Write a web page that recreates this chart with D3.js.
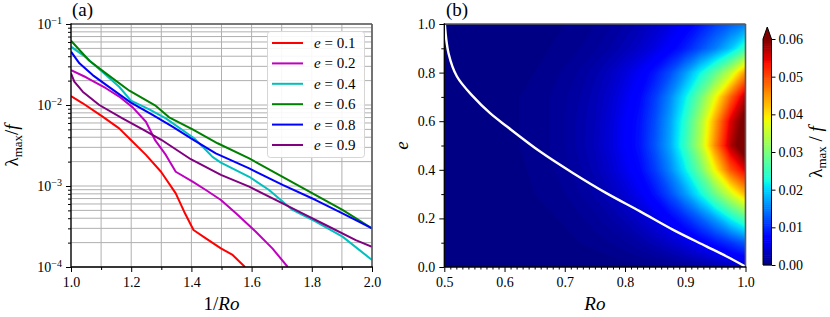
<!DOCTYPE html>
<html>
<head>
<meta charset="utf-8">
<script src="https://cdn.jsdelivr.net/npm/d3@7"></script>
<style>
body { margin: 0; background: #fff; }
svg text { font-family: "Liberation Serif", serif; fill: #000; white-space: pre; }
</style>
</head>
<body>
<svg id="fig" width="830" height="317"></svg>
<script>

// ---- panel (a): lambda_max / f against 1/Ro, one curve per e ----
const seriesE = [0.1, 0.2, 0.4, 0.6, 0.8, 0.9]
const seriesColors = ["#ff0000", "#bf00bf", "#00bfbf", "#008000", "#0000ff", "#800080"]

const x01 = [1.0, 1.039, 1.105, 1.160, 1.199, 1.249, 1.299, 1.348, 1.376, 1.407, 1.448, 1.498, 1.537, 1.578]
const y01 = [0.0129, 0.0105, 0.00718, 0.00515, 0.00370, 0.00242, 0.00150, 0.000811, 0.000482, 0.000286, 0.000226, 0.000170, 0.000141, 0.000100]

const x02 = [1.0, 1.05, 1.116, 1.160, 1.205, 1.249, 1.280, 1.315, 1.348, 1.404, 1.448, 1.498, 1.548, 1.614, 1.669, 1.720]
const y02 = [0.0270, 0.0220, 0.0161, 0.0127, 0.00935, 0.00622, 0.00365, 0.00242, 0.00150, 0.00113, 0.000893, 0.000671, 0.000460, 0.000273, 0.000170, 0.000100]

const x04 = [1.0, 1.05, 1.116, 1.160, 1.199, 1.260, 1.315, 1.409, 1.448, 1.470, 1.498, 1.592, 1.658, 1.736, 1.813, 1.902, 2.0]
const y04 = [0.0525, 0.0387, 0.0234, 0.0168, 0.0113, 0.00885, 0.00685, 0.00388, 0.00278, 0.00229, 0.00194, 0.00130, 0.000893, 0.000506, 0.000363, 0.000237, 0.000122]

const x06 = [1.0, 1.061, 1.116, 1.194, 1.282, 1.326, 1.404, 1.487, 1.592, 1.703, 1.813, 1.902, 2.0]
const y06 = [0.0622, 0.0352, 0.0246, 0.0150, 0.00973, 0.00705, 0.00501, 0.00337, 0.00219, 0.00130, 0.000774, 0.000506, 0.000300]

const x08 = [1.0, 1.028, 1.072, 1.127, 1.199, 1.271, 1.337, 1.404, 1.481, 1.592, 1.703, 1.813, 1.902, 2.0]
const y08 = [0.0455, 0.0327, 0.0234, 0.0166, 0.0107, 0.00753, 0.00540, 0.00377, 0.00253, 0.00165, 0.00103, 0.000671, 0.000460, 0.000300]

const x09 = [1.0, 1.011, 1.039, 1.094, 1.171, 1.238, 1.300, 1.398, 1.498, 1.592, 1.703, 1.769, 1.846, 1.946, 2.0]
const y09 = [0.0246, 0.0194, 0.0146, 0.0100, 0.00684, 0.00501, 0.00372, 0.00214, 0.00137, 0.000982, 0.000611, 0.000460, 0.000330, 0.000215, 0.000178]

const seriesX = [x01, x02, x04, x06, x08, x09]
const seriesY = [y01, y02, y04, y06, y08, y09]

const xTicksA = [1.0, 1.2, 1.4, 1.6, 1.8, 2.0]
const yTicksA = [1e-1, 1e-2, 1e-3, 1e-4]
const yExpA = ["−1", "−2", "−3", "−4"]

// ---- panel (b): lambda_max / f over (Ro, e) ----
const roGrid = [0.5, 0.525, 0.55, 0.575, 0.6, 0.625, 0.65, 0.675, 0.7, 0.725, 0.75, 0.775, 0.8, 0.825, 0.85, 0.875, 0.9, 0.925, 0.95, 0.975, 1.0]
const eGrid = [0.0, 0.1, 0.2, 0.3, 0.4, 0.5, 0.6, 0.7, 0.8, 0.9, 1.0]

const lamE00 = [0, 0, 0, 0, 0, 0, 0, 0, 0, 0, 0, 0.0001, 0.0002, 0.0003, 0.0005, 0.0008, 0.0012, 0.0017, 0.0023, 0.0030, 0.0038]
const lamE01 = [0, 0, 0, 0, 0, 0.0001, 0.0001, 0.0002, 0.0003, 0.0005, 0.0007, 0.0010, 0.0014, 0.0020, 0.0028, 0.0038, 0.0050, 0.0066, 0.0085, 0.0105, 0.0130]
const lamE02 = [0, 0, 0, 0, 0.0001, 0.0002, 0.0003, 0.0004, 0.0006, 0.0009, 0.0013, 0.0019, 0.0027, 0.0038, 0.0053, 0.0073, 0.0098, 0.0130, 0.0170, 0.0220, 0.0270]
const lamE03 = [0, 0, 0, 0.0001, 0.0002, 0.0003, 0.0005, 0.0007, 0.0010, 0.0015, 0.0021, 0.0030, 0.0043, 0.0060, 0.0085, 0.0120, 0.0165, 0.0220, 0.0290, 0.0360, 0.0430]
const lamE04 = [0, 0, 0.0001, 0.0001, 0.0002, 0.0004, 0.0006, 0.0009, 0.0013, 0.0019, 0.0027, 0.0040, 0.0058, 0.0078, 0.0110, 0.0155, 0.0215, 0.0290, 0.0390, 0.0490, 0.0550]
const lamE05 = [0, 0, 0.0001, 0.0002, 0.0003, 0.0005, 0.0007, 0.0010, 0.0015, 0.0022, 0.0031, 0.0046, 0.0066, 0.0087, 0.0125, 0.0175, 0.0250, 0.0340, 0.0460, 0.0570, 0.0640]
const lamE06 = [0, 0, 0.0001, 0.0002, 0.0003, 0.0005, 0.0007, 0.0010, 0.0015, 0.0022, 0.0030, 0.0045, 0.0065, 0.0085, 0.0120, 0.0170, 0.0240, 0.0330, 0.0440, 0.0550, 0.0620]
const lamE07 = [0, 0, 0.0001, 0.0002, 0.0003, 0.0005, 0.0007, 0.0010, 0.0014, 0.0020, 0.0028, 0.0040, 0.0058, 0.0078, 0.0110, 0.0155, 0.0215, 0.0290, 0.0380, 0.0480, 0.0570]
const lamE08 = [0, 0, 0, 0.0001, 0.0002, 0.0003, 0.0005, 0.0008, 0.0011, 0.0016, 0.0023, 0.0033, 0.0047, 0.0064, 0.0088, 0.0120, 0.0165, 0.0220, 0.0280, 0.0350, 0.0450]
const lamE09 = [0, 0, 0, 0, 0.0001, 0.0002, 0.0003, 0.0005, 0.0007, 0.0010, 0.0014, 0.0020, 0.0028, 0.0038, 0.0052, 0.0070, 0.0092, 0.0120, 0.0150, 0.0190, 0.0250]
const lamE10 = [0, 0, 0, 0, 0, 0.0001, 0.0002, 0.0003, 0.0005, 0.0007, 0.0010, 0.0014, 0.0020, 0.0027, 0.0037, 0.0050, 0.0066, 0.0086, 0.0110, 0.0130, 0.0150]
const lamRows = [lamE00, lamE01, lamE02, lamE03, lamE04, lamE05, lamE06, lamE07, lamE08, lamE09, lamE10]

// white boundary curve
const curveRo = [0.501, 0.507, 0.521, 0.548, 0.576, 0.604, 0.659, 0.714, 0.769, 0.825, 0.880, 0.935, 0.968, 0.999]
const curveE = [0.995, 0.880, 0.784, 0.701, 0.633, 0.578, 0.475, 0.386, 0.304, 0.229, 0.153, 0.085, 0.044, 0.003]

const xTicksB = [0.5, 0.6, 0.7, 0.8, 0.9, 1.0]
const yTicksB = [0.0, 0.2, 0.4, 0.6, 0.8, 1.0]
const cbTicks = [0.00, 0.01, 0.02, 0.03, 0.04, 0.05, 0.06]
const levelStep = 0.0005
const levelMax = 0.06


const svg = d3.select("#fig")

// matplotlib "jet"
let jetR = d3.scaleLinear().domain([0, 0.35, 0.66, 0.89, 1]).range([0, 0, 1, 1, 0.5]).clamp(true)
let jetG = d3.scaleLinear().domain([0, 0.125, 0.375, 0.64, 0.91, 1]).range([0, 0, 1, 1, 0, 0]).clamp(true)
let jetB = d3.scaleLinear().domain([0, 0.11, 0.34, 0.65, 1]).range([0.5, 1, 1, 0, 0]).clamp(true)
function jet(t) {
    return d3.rgb(jetR(t) * 255, jetG(t) * 255, jetB(t) * 255).formatHex()
}

function spines(g, x0, x1, y0, y1) {
    g.append("line").attr("x1", x0).attr("x2", x1).attr("y1", y0).attr("y2", y0)
        .attr("stroke", "#5a5a5a").attr("stroke-width", 1.6)
    g.append("line").attr("x1", x1).attr("x2", x1).attr("y1", y0).attr("y2", y1)
        .attr("stroke", "#5a5a5a").attr("stroke-width", 1.6)
    g.append("line").attr("x1", x0).attr("x2", x0).attr("y1", y0 - 0.8).attr("y2", y1)
        .attr("stroke", "#000").attr("stroke-width", 1.3)
    g.append("line").attr("x1", x0).attr("x2", x1 + 0.8).attr("y1", y1).attr("y2", y1)
        .attr("stroke", "#000").attr("stroke-width", 1.3)
}

function styleAxis(g) {
    g.attr("font-family", null).attr("font-size", 14)
    g.select(".domain").remove()
    g.selectAll(".tick line").attr("stroke", "#000").attr("stroke-width", 1)
}

function drawPanelA() {
    let L = 71, R = 372, T = 24, B = 267

    let x = d3.scaleLinear().domain([1, 2]).range([L, R])
    let y = d3.scaleLog().domain([1e-4, 1e-1]).range([B, T])

    let g = svg.append("g")

    svg.append("clipPath").attr("id", "clipA")
        .append("rect").attr("x", L).attr("y", T).attr("width", R - L).attr("height", B - T)

    // grid (major + minor)
    let xGrid = d3.range(10, 21).map(d => d / 10)
    g.selectAll("line.vgrid").data(xGrid).enter().append("line")
        .attr("class", "vgrid")
        .attr("x1", d => x(d)).attr("x2", d => x(d)).attr("y1", T).attr("y2", B)
        .attr("stroke", "#b0b0b0").attr("stroke-width", 1)
    g.selectAll("line.hgrid").data(y.ticks()).enter().append("line")
        .attr("class", "hgrid")
        .attr("x1", L).attr("x2", R).attr("y1", d => y(d)).attr("y2", d => y(d))
        .attr("stroke", "#b0b0b0").attr("stroke-width", 1)

    // curves
    let line = d3.line()
        .x(d => x(d[0]))
        .y(d => y(d[1]))

    let curves = seriesX.map((xs, i) => xs.map((v, j) => [v, seriesY[i][j]]))
    g.append("g").attr("clip-path", "url(#clipA)")
        .selectAll("path.curve").data(curves).enter().append("path")
        .attr("class", "curve")
        .attr("d", line)
        .attr("fill", "none")
        .attr("stroke", (d, i) => seriesColors[i])
        .attr("stroke-width", 2)
        .attr("stroke-linejoin", "round")

    spines(g, L, R, T, B)

    // axes
    let xAxis = d3.axisBottom(x).tickValues(xTicksA).tickFormat(d3.format(".1f"))
        .tickSize(5).tickPadding(5)
    let gx = g.append("g").attr("transform", "translate(0," + B + ")").call(xAxis)
    styleAxis(gx)
    let gxm = g.append("g").attr("transform", "translate(0," + B + ")")
        .call(d3.axisBottom(x).tickValues(d3.range(11, 20, 2).map(d => d / 10)).tickFormat("").tickSize(3))
    styleAxis(gxm)

    let yAxis = d3.axisLeft(y).tickValues(yTicksA).tickFormat("").tickSize(5).tickPadding(4)
    let gy = g.append("g").attr("transform", "translate(" + L + ",0)").call(yAxis)
    styleAxis(gy)
    gy.selectAll(".tick text").each(function(d, i) {
        let t = d3.select(this)
        t.append("tspan").text("10")
        t.append("tspan").attr("dy", "-0.5em").attr("font-size", 10).text(yExpA[i])
    })
    let minorY = y.ticks().filter(d => yTicksA.indexOf(d) < 0)
    let gym = g.append("g").attr("transform", "translate(" + L + ",0)")
        .call(d3.axisLeft(y).tickValues(minorY).tickFormat("").tickSize(3))
    styleAxis(gym)

    // labels
    g.append("text").attr("x", 72).attr("y", 16).attr("font-size", 19).text("(a)")

    let xl = g.append("text").attr("x", (L + R) / 2).attr("y", 310)
        .attr("text-anchor", "middle").attr("font-size", 19)
    xl.append("tspan").text("1/")
    xl.append("tspan").attr("font-style", "italic").text("Ro")

    let yl = g.append("text")
        .attr("transform", "translate(18," + ((T + B) / 2) + ") rotate(-90)")
        .attr("text-anchor", "middle").attr("font-size", 19)
    yl.append("tspan").text("λ")
    yl.append("tspan").attr("font-size", 13).attr("dy", 4).text("max")
    yl.append("tspan").attr("dy", -4).text("/")
    yl.append("tspan").attr("font-style", "italic").text("f")

    // legend
    let lg = g.append("g")
    lg.append("rect").attr("x", 267.5).attr("y", 31.5).attr("width", 97).attr("height", 126)
        .attr("rx", 3).attr("fill", "#fff").attr("fill-opacity", 0.9)
        .attr("stroke", "#d6d6d6").attr("stroke-width", 1)
    let rows = lg.selectAll("g.entry").data(seriesE).enter().append("g")
        .attr("class", "entry")
        .attr("transform", (d, i) => "translate(0," + (43 + i * 20.4) + ")")
    rows.append("line").attr("x1", 272).attr("x2", 303).attr("y1", 0).attr("y2", 0)
        .attr("stroke", (d, i) => seriesColors[i]).attr("stroke-width", 2)
    let lt = rows.append("text").attr("x", 314).attr("y", 5).attr("font-size", 15)
    lt.append("tspan").attr("font-style", "italic").text("e")
    lt.append("tspan").text(d => " = " + d.toFixed(1))
}

function drawPanelB() {
    let L = 444.3, R = 745.5, T = 24, B = 267

    let x = d3.scaleLinear().domain([0.5, 1.0]).range([L, R])
    let y = d3.scaleLinear().domain([0, 1]).range([B, T])

    let g = svg.append("g")

    svg.append("clipPath").attr("id", "clipB")
        .append("rect").attr("x", L).attr("y", T).attr("width", R - L).attr("height", B - T)

    let nx = roGrid.length, ny = eGrid.length
    let values = [].concat(...lamRows)
    let levels = d3.range(0, levelMax + levelStep / 2, levelStep)

    let contours = d3.contours().size([nx, ny]).thresholds(levels)(values)

    // grid index -> data value -> pixel
    let ix = d3.scaleLinear().domain([0.5, nx - 0.5]).range([roGrid[0], roGrid[nx - 1]])
    let iy = d3.scaleLinear().domain([0.5, ny - 0.5]).range([eGrid[0], eGrid[ny - 1]])
    let proj = d3.geoTransform({
        point: function(px, py) { this.stream.point(x(ix(px)), y(iy(py))) }
    })
    let path = d3.geoPath(proj)

    let color = v => v >= levelMax - 1e-9 ? "#800000" : jet((v + levelStep / 2) / levelMax)

    g.append("g").attr("clip-path", "url(#clipB)")
        .selectAll("path.band").data(contours).enter().append("path")
        .attr("class", "band")
        .attr("d", path)
        .attr("fill", d => color(d.value))
        .attr("stroke", d => color(d.value))
        .attr("stroke-width", 0.3)

    // white curve
    let wline = d3.line().x(d => x(d[0])).y(d => y(d[1])).curve(d3.curveCatmullRom.alpha(0.5))
    g.append("path").attr("clip-path", "url(#clipB)")
        .attr("d", wline(curveRo.map((r, i) => [r, curveE[i]])))
        .attr("fill", "none").attr("stroke", "#fff").attr("stroke-width", 2.4)

    spines(g, L, R, T, B)

    let gx = g.append("g").attr("transform", "translate(0," + B + ")")
        .call(d3.axisBottom(x).tickValues(xTicksB).tickFormat(d3.format(".1f")).tickSize(5).tickPadding(5))
    styleAxis(gx)
    let minorX = d3.range(50, 101).map(d => d / 100).filter(d => Math.round(d * 100) % 10 != 0)
    let gxm = g.append("g").attr("transform", "translate(0," + B + ")")
        .call(d3.axisBottom(x).tickValues(minorX).tickFormat("").tickSize(2.5))
    styleAxis(gxm)

    let gy = g.append("g").attr("transform", "translate(" + L + ",0)")
        .call(d3.axisLeft(y).tickValues(yTicksB).tickFormat(d3.format(".1f")).tickSize(5).tickPadding(4))
    styleAxis(gy)
    let gym = g.append("g").attr("transform", "translate(" + L + ",0)")
        .call(d3.axisLeft(y).tickValues([0.1, 0.3, 0.5, 0.7, 0.9]).tickFormat("").tickSize(3))
    styleAxis(gym)

    g.append("text").attr("x", 446).attr("y", 16).attr("font-size", 19).text("(b)")
    g.append("text").attr("x", (L + R) / 2).attr("y", 310).attr("text-anchor", "middle")
        .attr("font-size", 19).attr("font-style", "italic").text("Ro")
    g.append("text").attr("transform", "translate(408," + ((T + B) / 2) + ") rotate(-90)")
        .attr("text-anchor", "middle").attr("font-size", 19).attr("font-style", "italic").text("e")

    // colorbar
    let cL = 763, cW = 8.5, cT = 39, cB = 265, tip = 27
    let cy = d3.scaleLinear().domain([0, levelMax]).range([cB, cT])
    let cb = g.append("g")
    cb.selectAll("rect.cb").data(levels.slice(0, -1)).enter().append("rect")
        .attr("class", "cb")
        .attr("x", cL).attr("width", cW)
        .attr("y", d => cy(d + levelStep) - 0.3)
        .attr("height", d => cy(d) - cy(d + levelStep) + 0.6)
        .attr("fill", d => color(d))
    cb.append("path")
        .attr("d", "M" + cL + "," + cT + "L" + (cL + cW / 2) + "," + tip + "L" + (cL + cW) + "," + cT + "Z")
        .attr("fill", "#800000")
    cb.append("path")
        .attr("d", "M" + cL + "," + cT + "L" + (cL + cW / 2) + "," + tip + "L" + (cL + cW) + "," + cT +
            "L" + (cL + cW) + "," + cB + "L" + cL + "," + cB + "Z")
        .attr("fill", "none").attr("stroke", "#000").attr("stroke-width", 1)
    let gc = cb.append("g").attr("transform", "translate(" + (cL + cW) + ",0)")
        .call(d3.axisRight(cy).tickValues(cbTicks).tickFormat(d3.format(".2f")).tickSize(4).tickPadding(3))
    styleAxis(gc)

    let cl = g.append("text")
        .attr("transform", "translate(822," + ((cT + cB) / 2) + ") rotate(-90)")
        .attr("text-anchor", "middle").attr("font-size", 19)
    cl.append("tspan").text("λ")
    cl.append("tspan").attr("font-size", 13).attr("dy", 4).text("max")
    cl.append("tspan").attr("dy", -4).text(" / ")
    cl.append("tspan").attr("font-style", "italic").text("f")
}

drawPanelA()
drawPanelB()

</script>
</body>
</html>
